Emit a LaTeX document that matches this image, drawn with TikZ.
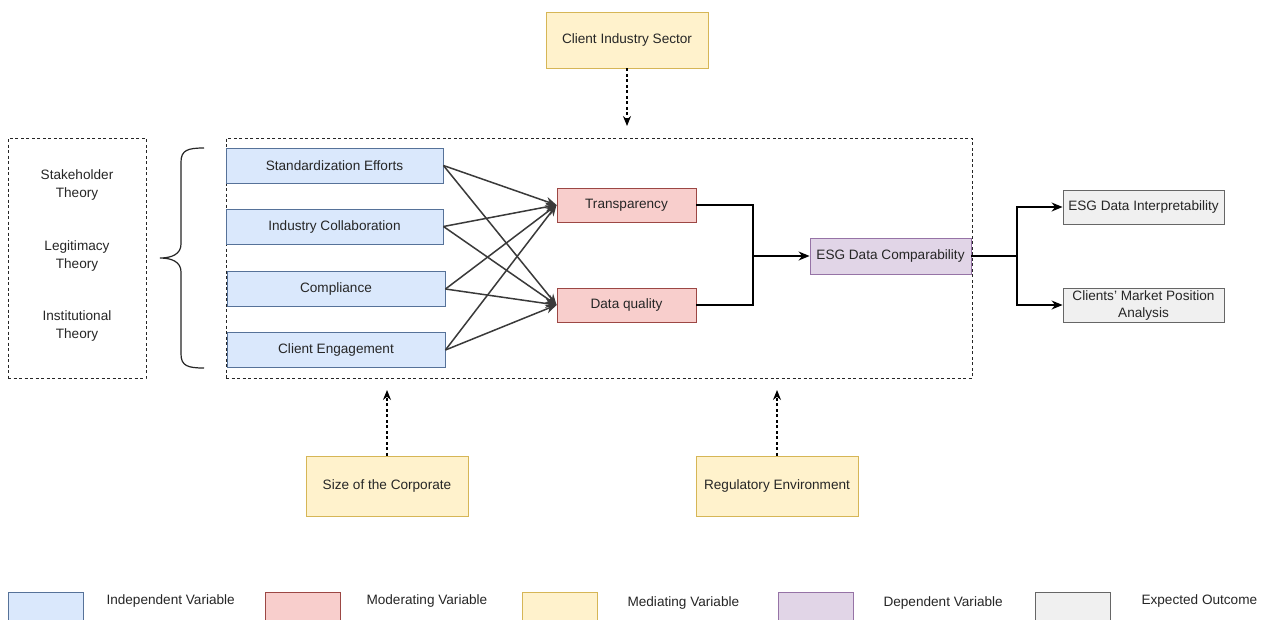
\documentclass[tikz,border=0pt]{standalone}
\usepackage{fontspec}
\setmainfont{Liberation Sans}
\usetikzlibrary{arrows.meta}
\definecolor{indfill}{HTML}{DAE8FC}\definecolor{inddraw}{HTML}{6C8EBF}
\definecolor{modfill}{HTML}{F8CECC}\definecolor{moddraw}{HTML}{B85450}
\definecolor{medfill}{HTML}{FFF2CC}\definecolor{meddraw}{HTML}{D6B656}
\definecolor{depfill}{HTML}{E1D5E7}\definecolor{depdraw}{HTML}{9673A6}
\definecolor{outfill}{HTML}{F0F0F0}\definecolor{outdraw}{HTML}{666666}
\definecolor{linkgray}{HTML}{3A3A3A}
\tikzset{
  every node/.style={font=\fontsize{13.6}{16}\selectfont, text=black!85},
  varbox/.style={draw, line width=0.9pt, rectangle, inner sep=2pt, align=center},
  indep/.style={varbox, fill=indfill, draw=inddraw!80!black},
  moder/.style={varbox, fill=modfill, draw=moddraw!85!black},
  medi/.style={varbox, fill=medfill, draw=meddraw},
  depend/.style={varbox, fill=depfill, draw=depdraw},
  outc/.style={varbox, fill=outfill, draw=outdraw},
  frame/.style={draw=black!85, line width=1pt, dash pattern=on 3pt off 2.5pt, rectangle, inner sep=0pt},
  cross/.style={draw=linkgray, line width=1.5pt, -{Stealth[length=11pt,width=9pt]}},
  elbow/.style={draw=black, line width=1.4pt, -{Stealth[length=11pt,width=9pt]}},
  modarrow/.style={draw=black, line width=1.1pt, dash pattern=on 3pt off 2.5pt, -{Stealth[length=10pt,width=8pt]}},
  theory/.style={align=center, font=\fontsize{13.6}{18}\selectfont},
  legtext/.style={anchor=west}
}
\begin{document}
\begin{tikzpicture}[x=1pt,y=-1pt]
\clip (0,0) rectangle (1268,619);
\fill[white] (0,0) rectangle (1268,619);

% dashed frames
\node[frame, minimum width=138pt, minimum height=240pt] (theorybox) at (77,258) {};
\node[frame, minimum width=746pt, minimum height=240pt] (model) at (599,258) {};

% theoretical lenses
\node[theory] (stake) at (77,185) {Stakeholder\\Theory};
\node[theory] (legit) at (77,256) {Legitimacy\\Theory};
\node[theory] (instit) at (77,326) {Institutional\\Theory};

% curly brace
\draw[line width=1.2pt, black!85] (204,148) .. controls (188,148) and (181,150) .. (181,162)
  -- (181,244) .. controls (181,254) and (172,258) .. (160,258)
  .. controls (172,258) and (181,262) .. (181,272)
  -- (181,354) .. controls (181,366) and (188,368) .. (204,368);

% independent variables
\node[indep, minimum width=217pt, minimum height=35pt] (std) at (334.5,165.5) {Standardization Efforts};
\node[indep, minimum width=217pt, minimum height=35pt] (ind) at (334.5,226.5) {Industry Collaboration};
\node[indep, minimum width=218pt, minimum height=35pt] (comp) at (336,289) {Compliance};
\node[indep, minimum width=218pt, minimum height=35pt] (eng) at (336,350) {Client Engagement};

% moderating variables
\node[moder, minimum width=139pt, minimum height=34pt] (trans) at (626.5,205) {Transparency};
\node[moder, minimum width=139pt, minimum height=34pt] (dq) at (626.5,305) {Data quality};

% dependent variable
\node[depend, minimum width=161pt, minimum height=36pt] (esg) at (890.5,256) {ESG Data Comparability};

% expected outcomes
\node[outc, minimum width=161pt, minimum height=34pt] (interp) at (1143.5,207) {ESG Data Interpretability};
\node[outc, minimum width=161pt, minimum height=34pt, font=\fontsize{13.6}{17}\selectfont] (market) at (1143.5,305) {Clients' Market Position\\Analysis};

% mediating variables
\node[medi, minimum width=162pt, minimum height=56pt] (sector) at (627,40) {Client Industry Sector};
\node[medi, minimum width=162pt, minimum height=60pt] (size) at (387,486) {Size of the Corporate};
\node[medi, minimum width=162pt, minimum height=60pt] (reg) at (777,486) {Regulatory Environment};

% links from independent to moderating variables
\foreach \src in {std,ind,comp,eng}{
  \draw[cross] (\src.east) -- (trans.west);
  \draw[cross] (\src.east) -- (dq.west);
}

% moderating -> dependent
\coordinate (joinA) at (753,256);
\draw[black, line width=1.4pt] (trans.east) -| (joinA);
\draw[black, line width=1.4pt] (dq.east) -| (joinA);
\draw[elbow] (joinA) -- (esg.west);

% dependent -> outcomes
\coordinate (joinB) at (1017,256);
\draw[black, line width=1.4pt] (esg.east) -- (joinB);
\draw[elbow] (joinB) |- (interp.west);
\draw[elbow] (joinB) |- (market.west);

% mediating influences on the model
\coordinate (topin) at (627,126);
\coordinate (leftin) at (387,390);
\coordinate (rightin) at (777,390);
\draw[modarrow] (sector.south) -- (topin);
\draw[modarrow] (size.north) -- (leftin);
\draw[modarrow] (reg.north) -- (rightin);

% legend
\node[indep, minimum width=75pt, minimum height=34pt] (lg1) at (45.5,609) {};
\node[legtext] (lt1) at (103,601) {Independent Variable};
\node[moder, minimum width=75pt, minimum height=34pt] (lg2) at (302.5,609) {};
\node[legtext] (lt2) at (363,601) {Moderating Variable};
\node[medi, minimum width=75pt, minimum height=34pt] (lg3) at (559.5,609) {};
\node[legtext] (lt3) at (624,603) {Mediating Variable};
\node[depend, minimum width=75pt, minimum height=34pt] (lg4) at (815.5,609) {};
\node[legtext] (lt4) at (880,603) {Dependent Variable};
\node[outc, minimum width=75pt, minimum height=34pt] (lg5) at (1072.5,609) {};
\node[legtext] (lt5) at (1138,601) {Expected Outcome};
\end{tikzpicture}
\end{document}
